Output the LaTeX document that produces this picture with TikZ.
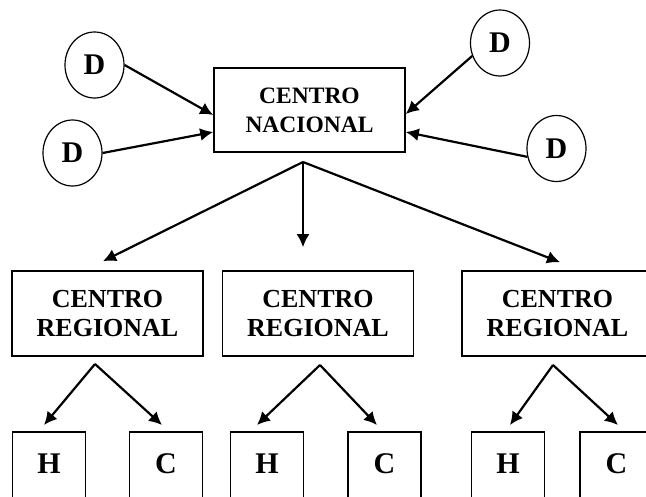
\documentclass[tikz,border=0pt]{standalone}
\usepackage{fontspec}
\setmainfont{Liberation Serif}
\usetikzlibrary{arrows.meta,positioning,shapes.geometric}

\begin{document}
\begin{tikzpicture}[
    x=1pt, y=-1pt,
    every node/.style={font=\bfseries},
    hub/.style={draw, line width=1.6pt, align=center, minimum width=191pt, minimum height=84pt, inner sep=0pt, font=\fontsize{23.5pt}{29pt}\selectfont\bfseries},
    region/.style={draw, line width=1.6pt, align=center, minimum width=191pt, minimum height=85pt, inner sep=0pt, font=\fontsize{26pt}{29pt}\selectfont\bfseries},
    leaf/.style={draw, line width=1.6pt, anchor=north, minimum width=73pt, minimum height=80pt, inner sep=0pt, text height=20pt, text depth=16pt, font=\fontsize{30pt}{34pt}\selectfont\bfseries},
    dnode/.style={draw, ellipse, line width=1.2pt, minimum width=59pt, minimum height=66pt, inner sep=0pt, font=\fontsize{30pt}{34pt}\selectfont\bfseries},
    flow/.style={-{Latex[length=13pt,width=13pt]}, line width=2.2pt}
]
\useasboundingbox (0,0) rectangle (646,496);
\node[hub] (cn) at (309.5,110) {CENTRO\\NACIONAL};
\node[dnode] (dtl) at (94.5,65) {D};
\node[dnode] (dbl) at (72.5,153) {D};
\node[dnode] (dtr) at (500,43) {D};
\node[dnode] (dbr) at (556.5,148.5) {D};
\node[region] (rl) at (107.5,313.5) {CENTRO\\REGIONAL};
\node[region] (rm) at (318,313.5) {CENTRO\\REGIONAL};
\node[region] (rr) at (557.5,313.5) {CENTRO\\REGIONAL};
\node[leaf] (h1) at (49,431) {H};
\node[leaf] (c1) at (166,431) {C};
\node[leaf] (h2) at (267,431) {H};
\node[leaf] (c2) at (384.5,431) {C};
\node[leaf] (h3) at (508,431) {H};
\node[leaf] (c3) at (616.5,431) {C};
\coordinate (cnfork) at (303,162);
\coordinate (rlfork) at (95,364);
\coordinate (rmfork) at (320,365);
\coordinate (rrfork) at (553,365);
\draw[flow] (dtl.east) -- ([yshift=-5pt]cn.west);
\draw[flow] (dbl.east) -- ([yshift=-22pt]cn.west);
\draw[flow] (dtr.205) -- ([yshift=-4pt]cn.east);
\draw[flow] (dbr.196) -- ([yshift=-22pt]cn.east);
\draw[flow] (cnfork) -- ([xshift=-4.5pt,yshift=9pt]rl.north);
\draw[flow] (cnfork) -- ([xshift=-15pt,yshift=23pt]rm.north);
\draw[flow] (cnfork) -- ([xshift=2.5pt,yshift=8pt]rr.north);
\draw[flow] (rlfork) -- ([xshift=-5pt,yshift=6pt]h1.north);
\draw[flow] (rlfork) -- ([xshift=-4pt,yshift=6pt]c1.north);
\draw[flow] (rmfork) -- ([xshift=-10pt,yshift=6pt]h2.north);
\draw[flow] (rmfork) -- ([xshift=-7.5pt,yshift=6pt]c2.north);
\draw[flow] (rrfork) -- ([xshift=2pt,yshift=6pt]h3.north);
\draw[flow] (rrfork) -- ([xshift=1.5pt,yshift=6pt]c3.north);
\end{tikzpicture}
\end{document}
